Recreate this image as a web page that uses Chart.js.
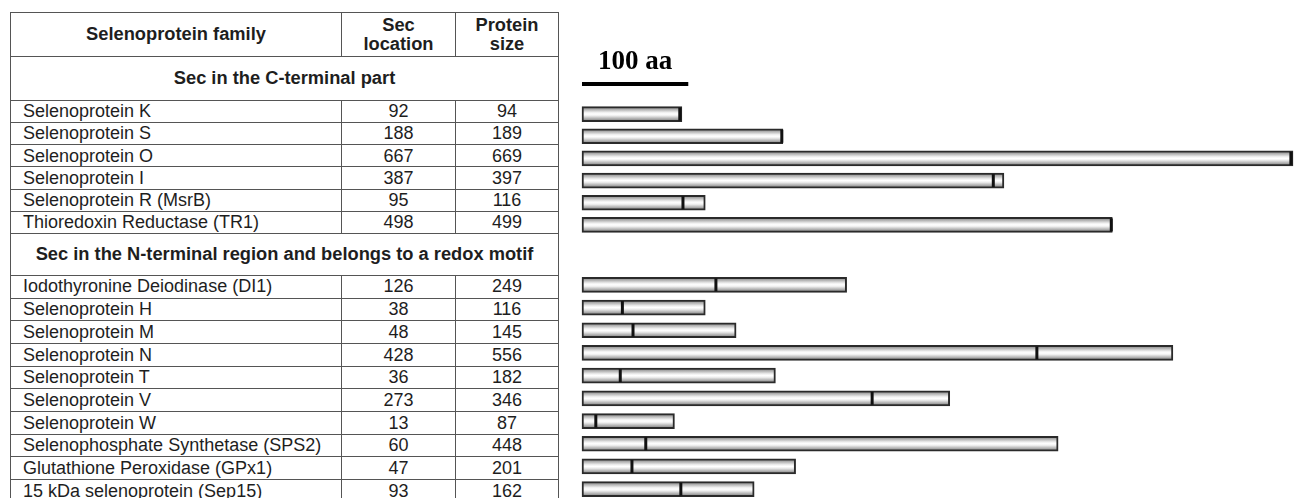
<!DOCTYPE html>
<html>
<head>
<meta charset="utf-8">
<script src="https://cdn.jsdelivr.net/npm/chart.js@4.4.1/dist/chart.umd.min.js"></script>
<style>
  html, body { margin: 0; padding: 0; background: #fff; width: 1297px; height: 498px; overflow: hidden; }
  #tabla {
    position: absolute; left: 10px; top: 12px; width: 548px;
    border-collapse: collapse; table-layout: fixed;
    font-family: "Liberation Sans", Arial, sans-serif; font-size: 18px; color: #1e1e1e;
  }
  #tabla td { border: 1px solid #555; padding: 0; vertical-align: middle; line-height: 18.6px; white-space: nowrap; overflow: hidden; }
  #tabla .nombre { padding-left: 12px; }
  #tabla .num { text-align: center; }
  #tabla .cab, #tabla .seccion { font-weight: bold; text-align: center; font-size: 18.3px; }
  canvas { position: absolute; left: 560px; }
</style>
</head>
<body>
<table id="tabla"></table>
<canvas id="graficoC" width="737" height="245" style="top:0px"></canvas>
<canvas id="graficoN" width="737" height="260" style="top:250px"></canvas>

<script>
// ---- datos ----
const encabezados = [["Selenoprotein family"], ["Sec", "location"], ["Protein", "size"]];

const seccionC = "Sec in the C-terminal part";
const familiasC = [
  "Selenoprotein K", "Selenoprotein S", "Selenoprotein O", "Selenoprotein I",
  "Selenoprotein R (MsrB)", "Thioredoxin Reductase (TR1)"
];
const secC = [92, 188, 667, 387, 95, 498];
const tamC = [94, 189, 669, 397, 116, 499];

const seccionN = "Sec in the N-terminal region and belongs to a redox motif";
const familiasN = [
  "Iodothyronine Deiodinase (DI1)", "Selenoprotein H", "Selenoprotein M", "Selenoprotein N",
  "Selenoprotein T", "Selenoprotein V", "Selenoprotein W",
  "Selenophosphate Synthetase (SPS2)", "Glutathione Peroxidase (GPx1)", "15 kDa selenoprotein (Sep15)"
];
const secN = [126, 38, 48, 428, 36, 273, 13, 60, 47, 93];
const tamN = [249, 116, 145, 556, 182, 346, 87, 448, 201, 162];

const ESCALA_AA = 100;
const MAX_AA = Math.max(...tamC, ...tamN);

// ---- tabla ----
function armarTabla() {
  let html = `<colgroup><col style="width:331px"><col style="width:114px"><col style="width:103px"></colgroup>`;
  html += `<tr style="height:44px">` + encabezados.map(e => `<td class="cab">${e.join("<br>")}</td>`).join("") + `</tr>`;

  const bloque = (titulo, alto, nombres, sec, tam, altoFila) => {
    let h = `<tr style="height:${alto}px"><td class="seccion" colspan="3">${titulo}</td></tr>`;
    nombres.forEach((n, i) => {
      h += `<tr style="height:${altoFila}px">
        <td class="nombre">${n}</td><td class="num">${sec[i]}</td><td class="num">${tam[i]}</td>
      </tr>`;
    });
    return h;
  };

  html += bloque(seccionC, 44, familiasC, secC, tamC, 22.17);
  html += bloque(seccionN, 42, familiasN, secN, tamN, 22.7);
  document.getElementById("tabla").innerHTML = html;
}

// ---- graficos ----
function degradado(c) {
  const esc = c.chart.scales.y;
  if (c.type !== "data" || !esc) return "#eeeeee";
  const y = esc.getPixelForValue(c.dataIndex);
  if (!isFinite(y)) return "#eeeeee";
  const g = c.chart.ctx.createLinearGradient(0, y - 5.5, 0, y + 5.5);
  g.addColorStop(0, "#a0a0a0");
  g.addColorStop(0.35, "#f0f0f0");
  g.addColorStop(0.5, "#ffffff");
  g.addColorStop(0.65, "#eeeeee");
  g.addColorStop(1, "#9c9c9c");
  return g;
}

const escalaPlugin = {
  id: "escala",
  afterDraw(chart) {
    const x = chart.scales.x;
    const ctx = chart.ctx;
    const x0 = x.getPixelForValue(0);
    const x1 = x.getPixelForValue(ESCALA_AA);
    ctx.save();
    ctx.fillStyle = "#000";
    ctx.fillRect(x0, 82, x1 - x0, 4);
    ctx.font = 'bold 27px "Liberation Serif", "Times New Roman", serif';
    ctx.textAlign = "center";
    ctx.textBaseline = "alphabetic";
    ctx.fillText(ESCALA_AA + " aa", (x0 + x1) / 2, 69);
    ctx.restore();
  }
};

function graficoBarras(id, nombres, sec, tam, padTop, padBottom, plugins) {
  return new Chart(document.getElementById(id), {
    type: "bar",
    data: {
      labels: nombres,
      datasets: [
        {
          type: "scatter",
          data: nombres.map((n, i) => ({ x: sec[i], y: n })),
          pointStyle: "line",
          pointRotation: 90,
          pointRadius: 6.5,
          pointBorderWidth: 3,
          pointBorderColor: "#111",
          borderColor: "#111",
          order: 0,
          clip: false
        },
        {
          data: tam,
          backgroundColor: degradado,
          borderColor: "#2a2a2a",
          borderWidth: 2,
          borderSkipped: false,
          barThickness: 15,
          order: 1,
          clip: false
        }
      ]
    },
    options: {
      indexAxis: "y",
      responsive: false,
      animation: false,
      events: [],
      layout: { autoPadding: false, padding: { left: 22, right: 4, top: padTop, bottom: padBottom } },
      plugins: { legend: { display: false }, tooltip: { enabled: false }, title: { display: false } },
      scales: {
        x: { type: "linear", min: 0, max: MAX_AA, display: false },
        y: { type: "category", offset: true, display: false }
      }
    },
    plugins
  });
}

armarTabla();
graficoBarras("graficoC", familiasC, secC, tamC, 103, 9, [escalaPlugin]);
graficoBarras("graficoN", familiasN, secN, tamN, 23.5, 9.5, []);
</script>
</body>
</html>
